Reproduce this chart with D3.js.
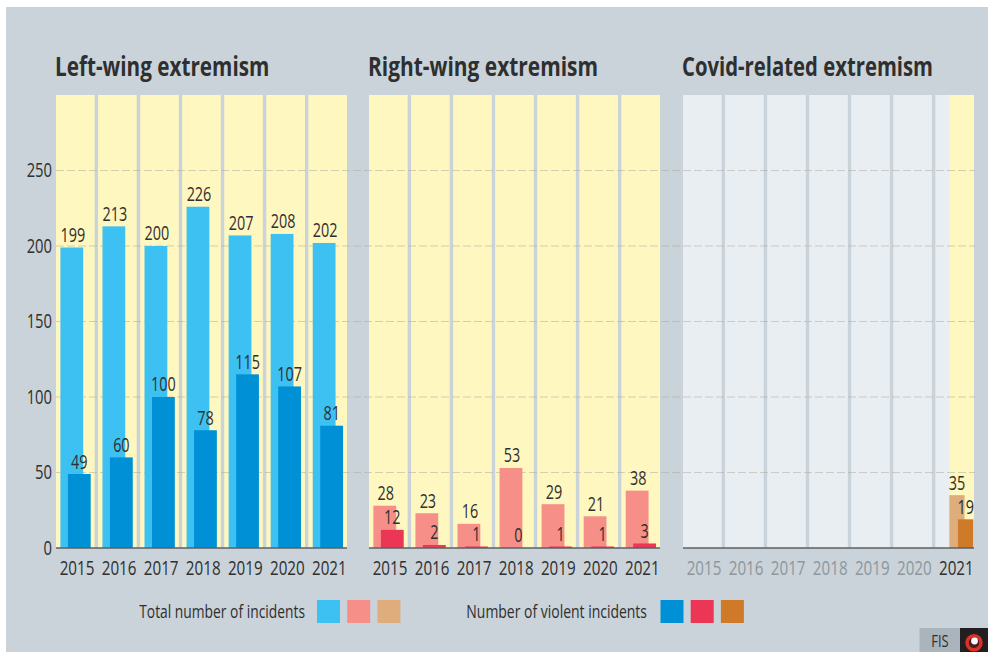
<!DOCTYPE html>
<html><head><meta charset="utf-8">
<script src="https://cdn.jsdelivr.net/npm/d3@7"></script>
<style>
html,body{margin:0;padding:0;background:#fff}
svg{display:block}
text{font-family:"Open Sans","Noto Sans",sans-serif;fill:#2f2f2f}
</style></head><body>
<svg id="c" width="988" height="652"></svg>
<script>
const years=[2015,2016,2017,2018,2019,2020,2021];
const leftTotal=[199,213,200,226,207,208,202];
const leftViolent=[49,60,100,78,115,107,81];
const rightTotal=[28,23,16,53,29,21,38];
const rightViolent=[12,2,1,0,1,1,3];
const covidTotal=[null,null,null,null,null,null,35];
const covidViolent=[null,null,null,null,null,null,19];
const yTicks=[0,50,100,150,200,250];
const panelTitles=["Left-wing extremism","Right-wing extremism","Covid-related extremism"];
const legendTotal="Total number of incidents";
const legendViolent="Number of violent incidents";
const totalColors=["#3dc1f2","#f58f88","#dfac7c"];
const violentColors=["#0090d6","#ec3655","#cf7a28"];

// The reference face is a condensed sans: squeeze real text horizontally about its anchor.
function condense(sel,k){
  sel.each(function(){
    const x=+this.getAttribute("x")||0;
    this.setAttribute("transform",`translate(${x*(1-k)},0) scale(${k},1)`);
  });
}

const svg=d3.select("#c");
svg.append("rect").attr("x",6).attr("y",7).attr("width",982).attr("height",645).attr("fill","#c9d3d9");

const y=d3.scaleLinear().domain([0,300]).range([548,95]);
const panels=[
 {x0:56,x1:347,t:leftTotal,v:leftViolent,title:panelTitles[0],i:0,tk:.767},
 {x0:369,x1:660,t:rightTotal,v:rightViolent,title:panelTitles[1],i:1,tk:.775},
 {x0:683,x1:974,t:covidTotal,v:covidViolent,title:panelTitles[2],i:2,tk:.752}
];
const valueStyle=g=>g.attr("text-anchor","middle").attr("font-size",20);

panels.forEach(p=>{
  const g=svg.append("g");
  const x=d3.scaleBand().domain(years).range([p.x0,p.x1+3.4]);
  const colW=x.bandwidth()-3.4;
  const isCovid=p.i===2;
  g.selectAll("rect.col").data(years).join("rect")
    .attr("x",d=>x(d)).attr("y",y(300)).attr("width",colW).attr("height",y(0)-y(300))
    .attr("fill",isCovid?"#e9eef2":"#fef7c0");
  if(isCovid){
    g.append("rect").attr("x",x(2021)+colW*0.37).attr("y",y(300))
      .attr("width",colW*0.63).attr("height",y(0)-y(300)).attr("fill","#fef7c0");
  }
  p.x=x;p.colW=colW;
});

const grid=svg.append("g");
grid.selectAll("line").data(yTicks.slice(1)).join("line")
  .attr("x1",56).attr("x2",975).attr("y1",d=>y(d)).attr("y2",d=>y(d))
  .attr("stroke","#a8a99a").attr("stroke-opacity",.5).attr("stroke-width",1).attr("stroke-dasharray","8 3");

panels.forEach(p=>{
  const g=svg.append("g"),x=p.x,isCovid=p.i===2;
  const idx=years.map((d,k)=>k).filter(k=>p.t[k]!==null);
  const tOff=isCovid?14:4.4, tW=isCovid?15.2:22.8, vOff=isCovid?22.6:11.9, vW=isCovid?15.4:22.8;
  g.selectAll("rect.t").data(idx).join("rect")
    .attr("x",k=>x(years[k])+tOff).attr("width",tW)
    .attr("y",k=>y(p.t[k])).attr("height",k=>y(0)-y(p.t[k])).attr("fill",totalColors[p.i]);
  g.selectAll("rect.v").data(idx).join("rect")
    .attr("x",k=>x(years[k])+vOff).attr("width",vW)
    .attr("y",k=>y(p.v[k])).attr("height",k=>y(0)-y(p.v[k])).attr("fill",violentColors[p.i]);
  g.selectAll("text.tl").data(idx).join("text").call(valueStyle)
    .attr("x",k=>x(years[k])+tOff+tW/2+(isCovid?0:1)).attr("y",k=>y(p.t[k])-5.5).text(k=>p.t[k]).call(condense,.72);
  g.selectAll("text.vl").data(idx).join("text").call(valueStyle)
    .attr("x",k=>x(years[k])+vOff+vW/2).attr("y",k=>y(p.v[k])-5.5).text(k=>p.v[k]).call(condense,.72);
  const ax=g.append("g").attr("transform","translate(0,548)").call(
    d3.axisBottom(x).tickSize(0).tickPadding(13));
  ax.select(".domain").attr("d",`M${p.x0},0H${p.x1}`).attr("stroke","#5a6166").attr("stroke-width",1.6);
  ax.selectAll("text").attr("font-size",20).attr("font-family",null)
    .style("fill",d=>isCovid&&d!==2021?"#8e979d":"#2f2f2f").call(condense,.76);
  g.append("text").attr("x",p.x0-1).attr("y",76).attr("font-size",27).attr("font-weight",700)
    .text(p.title).call(condense,p.tk);
});

const yAx=svg.append("g").attr("transform","translate(56,0)").call(d3.axisLeft(y).tickValues(yTicks).tickSize(0).tickPadding(4));
yAx.select(".domain").remove();
yAx.selectAll("text").attr("font-size",20).attr("font-family",null).call(condense,.74);

const leg=svg.append("g");
const sw=d3.scaleBand().domain([0,1,2]).range([0,90.6]);
function legend(tx,txt,sx,cols,k){
  leg.append("text").attr("x",tx).attr("y",618).attr("text-anchor","end").attr("font-size",18.5).text(txt).call(condense,k);
  leg.selectAll(null).data(cols).join("rect")
    .attr("x",(d,i)=>sx+sw(i)).attr("y",600).attr("width",23).attr("height",23).attr("fill",d=>d);
}
legend(305,legendTotal,317,totalColors,.748);
legend(647,legendViolent,660.5,violentColors,.755);

const tag=svg.append("g");
tag.append("rect").attr("x",919.5).attr("y",628).attr("width",40.5).attr("height",24).attr("fill","#a9b4bc");
tag.append("rect").attr("x",960).attr("y",628).attr("width",28).attr("height",24).attr("fill","#231f20");
tag.append("text").attr("x",940).attr("y",647).attr("text-anchor","middle").attr("font-size",17).text("FIS").call(condense,.76);
tag.append("circle").attr("cx",974).attr("cy",642.7).attr("r",7).attr("fill","#4a1c1c").attr("stroke","#dc3028").attr("stroke-width",3.5);
tag.append("circle").attr("cx",974.5).attr("cy",641).attr("r",3.4).attr("fill","#fff");
</script></body></html>
